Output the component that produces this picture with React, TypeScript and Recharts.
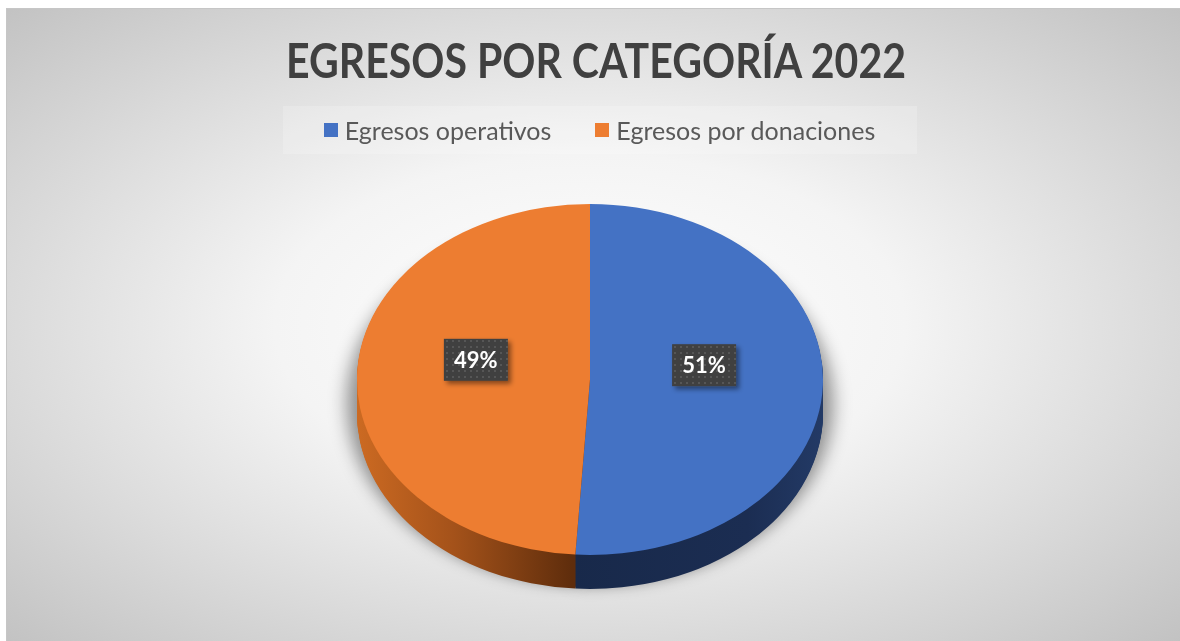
import React from 'react';
import { PieChart, Pie, Cell, Legend } from 'recharts';

// ---- data ----
const categories = ['Egresos operativos', 'Egresos por donaciones'];
const values = [51, 49];
const chartTitle = 'EGRESOS POR CATEGORÍA 2022';

// ---- styling ----
const topColors = ['#4472C4', '#ED7D31'];
const sideFills = ['url(#sideBlue)', 'url(#sideOrange)'];

const data = categories.map((name, i) => ({ name, value: values[i] }));

const W = 1174;
const H = 633;
const CX = 584;
const CY = 371.5;
const RX = 233;
const TILT = 0.753;
const DEPTH = 34;
const sideLayers = Array.from({ length: DEPTH }, (_, i) => DEPTH - i);

const RAD = Math.PI / 180;

const renderLabel = (props: any) => {
  const { cx, cy, midAngle, outerRadius, percent } = props;
  const r = outerRadius * 0.49;
  const x = cx + r * Math.cos(-midAngle * RAD);
  const yUn = cy + r * Math.sin(-midAngle * RAD);
  const y = cy + (yUn - cy) * TILT - 17;
  return (
    <g>
      <rect x={x - 32} y={y - 21} width={64} height={42} fill="url(#dots)" filter="url(#lblShadow)" />
      <text
        x={x}
        y={y + 8}
        textAnchor="middle"
        fill="#ffffff"
        style={{ fontFamily: 'Lato, sans-serif', fontWeight: 700, fontSize: 22 }}
      >
        {`${Math.round(percent * 100)}%`}
      </text>
    </g>
  );
};

const renderLegend = () => (
  <div style={{ display: 'flex', justifyContent: 'center', alignItems: 'center', paddingLeft: 13 }}>
    {categories.map((c, i) => (
      <span
        key={c}
        style={{ display: 'inline-flex', alignItems: 'center', marginRight: i === 0 ? 44 : 0 }}
      >
        <span style={{ display: 'inline-block', width: 14, height: 14, background: topColors[i], marginRight: 7 }} />
        <span style={{ fontFamily: 'Lato, sans-serif', fontSize: 25, color: '#595959', lineHeight: '30px' }}>{c}</span>
      </span>
    ))}
  </div>
);

export default function App() {
  return (
    <div
      style={{
        position: 'fixed',
        left: 6,
        top: 8,
        width: W + 30,
        height: H + 30,
        background:
          'radial-gradient(ellipse 830px 450px at 584px 317px, #ffffff 0%, #f4f4f4 38%, #c2c2c2 100%)',
        boxShadow: 'inset 1px 1px 0 #c6c6c6',
        overflow: 'hidden',
      }}
    >
      <style>{`
        html, body { margin: 0; padding: 0; overflow: hidden; background: #ffffff; }
        .pie3d path.recharts-sector {
          transform-box: view-box;
          transform-origin: ${CX}px ${CY}px;
          transform: scaleY(${TILT});
        }
      `}</style>
      <svg width={W} height={H} style={{ position: 'absolute', left: 0, top: 0 }}>
        <defs>
          <linearGradient id="sideOrange" gradientUnits="userSpaceOnUse" x1={351} y1={0} x2={566} y2={0}>
            <stop offset="0" stopColor="#cc6a22" />
            <stop offset="0.45" stopColor="#a4521a" />
            <stop offset="1" stopColor="#5f2d0c" />
          </linearGradient>
          <linearGradient id="sideBlue" gradientUnits="userSpaceOnUse" x1={564} y1={0} x2={817} y2={0}>
            <stop offset="0" stopColor="#18294a" />
            <stop offset="0.7" stopColor="#1b2d52" />
            <stop offset="1" stopColor="#233a66" />
          </linearGradient>
          <pattern id="dots" patternUnits="userSpaceOnUse" width={6} height={6}>
            <rect x={0} y={0} width={6} height={6} fill="#3f3f3f" />
            <rect x={2} y={2} width={2} height={2} fill="#565656" />
          </pattern>
          <filter id="lblShadow" x="-20%" y="-20%" width="150%" height="160%">
            <feDropShadow dx={3} dy={3} stdDeviation={2.5} floodColor="#000" floodOpacity={0.45} />
          </filter>
          <filter id="pieShadow" x="-20%" y="-20%" width="140%" height="140%">
            <feGaussianBlur stdDeviation={9} />
          </filter>
        </defs>
        <rect x={277} y={98} width={634} height={48} fill="#ffffff" opacity={0.2} />
        <text
          x={590}
          y={69.5}
          textAnchor="middle"
          fill="#404040"
          textLength={620}
          lengthAdjust="spacingAndGlyphs"
          style={{ fontFamily: 'Lato, sans-serif', fontWeight: 700, fontSize: 47 }}
        >
          {chartTitle}
        </text>
      </svg>
      <div style={{ position: 'absolute', left: 0, top: 0 }} className="pie3d">
        <PieChart width={W} height={H} margin={{ top: 0, right: 0, bottom: 0, left: 0 }}>
          <Legend
            verticalAlign="middle"
            align="center"
            layout="horizontal"
            content={renderLegend}
            wrapperStyle={{ top: 107, left: 0, width: W }}
          />
          <Pie
            data={data}
            dataKey="value"
            nameKey="name"
            cx={CX}
            cy={CY + (DEPTH * 0.7) / TILT}
            outerRadius={RX + 10}
            startAngle={90}
            endAngle={-270}
            stroke="none"
            legendType="none"
            isAnimationActive={false}
          >
            {data.map((d) => (
              <Cell key={d.name} fill="#000000" fillOpacity={0.42} filter="url(#pieShadow)" />
            ))}
          </Pie>
          {sideLayers.map((k) => (
            <Pie
              key={`side-${k}`}
              data={data}
              dataKey="value"
              nameKey="name"
              cx={CX}
              cy={CY + k / TILT}
              outerRadius={RX}
              startAngle={90}
              endAngle={-270}
              stroke="none"
              legendType="none"
              isAnimationActive={false}
            >
              {data.map((d, i) => (
                <Cell key={d.name} fill={sideFills[i]} />
              ))}
            </Pie>
          ))}
          <Pie
            data={data}
            dataKey="value"
            nameKey="name"
            cx={CX}
            cy={CY}
            outerRadius={RX}
            startAngle={90}
            endAngle={-270}
            stroke="none"
            label={renderLabel}
            labelLine={false}
            isAnimationActive={false}
          >
            {data.map((d, i) => (
              <Cell key={d.name} fill={topColors[i]} />
            ))}
          </Pie>
        </PieChart>
      </div>
    </div>
  );
}
